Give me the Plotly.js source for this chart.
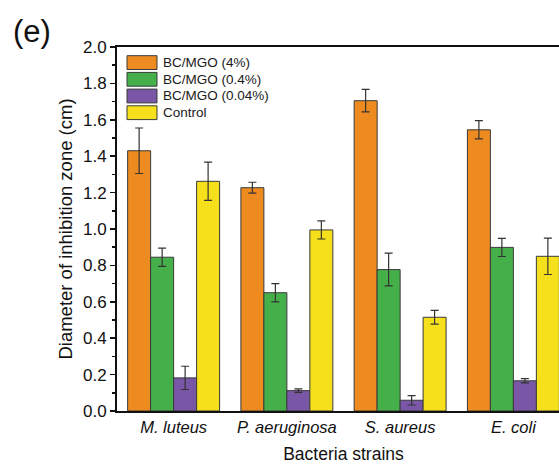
<!DOCTYPE html>
<html>
<head>
<meta charset="utf-8">
<script src="https://cdn.plot.ly/plotly-3.0.1.min.js"></script>
<style>
  html, body { margin: 0; padding: 0; overflow: hidden; background: #fff; }
  #chart { width: 570px; height: 464px; }
</style>
</head>
<body>
<div id="chart"></div>
<script>
// ---- data ----
const strains = ["<i>M. luteus</i>", "<i>P. aeruginosa</i>", "<i>S. aureus</i>", "<i>E. coli</i>"];
const seriesNames = ["BC/MGO (4%)", "BC/MGO (0.4%)", "BC/MGO (0.04%)", "Control"];
const mgo4   = [1.43, 1.227, 1.705, 1.545];
const mgo4Err = [0.125, 0.03, 0.062, 0.05];
const mgo04  = [0.845, 0.65, 0.777, 0.899];
const mgo04Err = [0.05, 0.05, 0.09, 0.05];
const mgo004 = [0.182, 0.112, 0.059, 0.166];
const mgo004Err = [0.064, 0.01, 0.026, 0.012];
const control = [1.262, 0.995, 0.515, 0.85];
const controlErr = [0.105, 0.05, 0.038, 0.1];
const colors = ["#ED8B21", "#45B04A", "#7A56A6", "#F6E01C"];

const values = [mgo4, mgo04, mgo004, control];
const errs = [mgo4Err, mgo04Err, mgo004Err, controlErr];

const traces = values.map((v, i) => ({
  type: "bar",
  name: seriesNames[i],
  x: strains,
  y: v,
  marker: { color: colors[i], line: { color: "#3a3a3a", width: 1 } },
  error_y: { type: "data", array: errs[i], visible: true, color: "#333", thickness: 1.2, width: 4 },
  showlegend: false
}));

// plot area in pixels
const L = 117, R = 570, T = 47, B = 411;
const px = x => (x - L) / (R - L);
const py = y => (B - y) / (B - T);

const shapes = [];
const annotations = [];
seriesNames.forEach((n, i) => {
  const top = 55.7 + i * 16.7;
  shapes.push({
    type: "rect", xref: "paper", yref: "paper",
    x0: px(127), x1: px(157), y0: py(top + 13.8), y1: py(top),
    fillcolor: colors[i], line: { color: "#3a3a3a", width: 1 }
  });
  annotations.push({
    xref: "paper", yref: "paper", x: px(161), y: py(top + 6.9),
    xanchor: "left", yanchor: "middle", showarrow: false,
    text: n, font: { family: "Arial, Liberation Sans, sans-serif", size: 13.5, color: "#1a1a1a" }
  });
});
annotations.push({
  xref: "paper", yref: "paper", x: px(32), y: py(32),
  xanchor: "center", yanchor: "middle", showarrow: false,
  text: "(e)", font: { family: "Arial, Liberation Sans, sans-serif", size: 31, color: "#111" }
});

const layout = {
  width: 570, height: 464,
  margin: { l: L, r: 570 - R, t: T, b: 464 - B },
  paper_bgcolor: "#fff", plot_bgcolor: "#fff",
  barmode: "group", bargap: 0.188, bargroupgap: 0,
  font: { family: "Arial, Liberation Sans, sans-serif", color: "#111" },
  xaxis: {
    type: "category", range: [-0.5, 3.5],
    showline: true, linecolor: "#111", linewidth: 2, mirror: true,
    ticks: "", showgrid: false, zeroline: false,
    tickfont: { size: 16.5, color: "#111" },
    title: { text: "Bacteria strains", font: { size: 17.5, color: "#111" }, standoff: 18 }
  },
  yaxis: {
    range: [0, 2], dtick: 0.2, tickformat: ".1f",
    showline: true, linecolor: "#111", linewidth: 2, mirror: true,
    ticks: "outside", ticklen: 5, tickwidth: 1.5, tickcolor: "#111",
    minor: { dtick: 0.1, ticks: "outside", ticklen: 3, tickwidth: 1.5, tickcolor: "#111" },
    showgrid: false, zeroline: false,
    tickfont: { size: 17, color: "#111" },
    title: { text: "Diameter of inhibition zone (cm)", font: { size: 18.5, color: "#111" }, standoff: 5 }
  },
  shapes: shapes,
  annotations: annotations,
  showlegend: false
};

Plotly.newPlot("chart", traces, layout, { displayModeBar: false, staticPlot: true });
</script>
</body>
</html>
